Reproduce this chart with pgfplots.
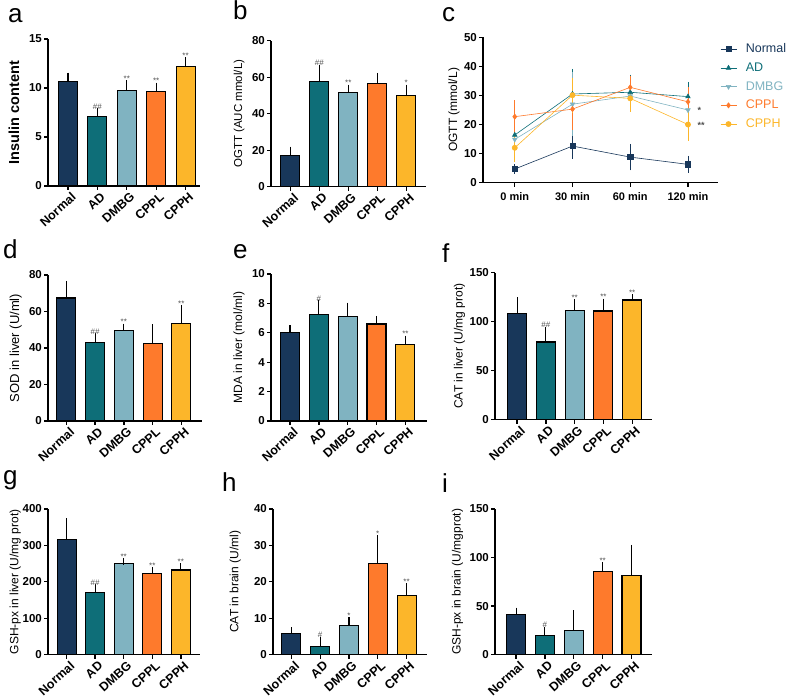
\documentclass[border=0pt]{standalone}
\usepackage{pgfplots}
\pgfplotsset{compat=1.18}
\usepackage{fontspec}
\setmainfont{Liberation Sans}
\definecolor{cN}{HTML}{18375A}
\definecolor{cA}{HTML}{0E6E78}
\definecolor{cD}{HTML}{80B3C1}
\definecolor{cL}{HTML}{FE7A2C}
\definecolor{cH}{HTML}{FCB62A}
\definecolor{star}{HTML}{505050}
\pgfplotsset{
  base/.style={
    scale only axis,
    axis lines=left,
    axis line style={-, line width=1.3pt, black},
    tick align=outside,
    major tick length=4pt,
    tick style={line width=1.3pt, black},
    /pgf/number format/assume math mode=true,
    yticklabel style={font=\bfseries\fontsize{11.5}{12}\selectfont, inner sep=2pt},
    ylabel style={font=\fontsize{12}{13}\selectfont, anchor=center},
    ymin=0,
    clip=false,
    anchor=south west,
  },
  barax/.style={
    base,
    xtick={0,1,2,3,4},
    xticklabels={Normal,AD,DMBG,CPPL,CPPH},
    xticklabel style={font=\bfseries\fontsize{12.5}{13}\selectfont, rotate=42, anchor=north east, inner sep=1pt, yshift=-2pt, xshift=2pt},
  },
  ylx/.style={ylabel style={at={(axis description cs:#1,0.5)}}},
  bp/.style={ybar, bar width=19pt, bar shift=0pt, draw=black, line width=1.1pt, fill=#1,
    error bars/y dir=plus, error bars/y explicit, error bars/error bar style={line width=1.1pt,black},
    error bars/error mark options={line width=1.1pt, black, mark size=3.5pt}},
  lp/.style={color=#1, line width=0.6pt, mark size=2.6pt, mark options={fill=#1, solid},
    error bars/y dir=both, error bars/y explicit, error bars/error bar style={line width=0.6pt, color=#1},
    error bars/error mark options={line width=0.6pt, color=#1, mark size=3pt}},
}
\tikzset{ann/.style={font=\fontsize{8}{8}\selectfont, text=star, anchor=south, inner sep=1pt, yshift=1pt},
  lett/.style={font=\fontsize{26}{26}\selectfont, anchor=base west, inner sep=0pt}}
\begin{document}
\begin{tikzpicture}
\useasboundingbox (0pt,0pt) rectangle (787pt,698pt);
% panel letters
\node[lett] at (8pt,675.5pt) {a};
\node[lett] at (233pt,678pt) {b};
\node[lett] at (442pt,676.3pt) {c};
\node[lett] at (3pt,439.7pt) {d};
\node[lett] at (233pt,439.7pt) {e};
\node[lett] at (442pt,435pt) {f};
\node[lett] at (3pt,213pt) {g};
\node[lett] at (222pt,206.3pt) {h};
\node[lett] at (442pt,205pt) {i};

% ---------- a ----------
\begin{axis}[barax, at={(48pt,512pt)}, width=152pt, height=147pt,
  xmin=-0.68, xmax=4.49, ymax=15, ytick={0,5,10,15},
  ylabel={Insulin content}, ylx=-0.224,
  ylabel style={font=\bfseries\fontsize{14.5}{16}\selectfont}]
\addplot[bp=cN] coordinates {(0,10.7) +- (0,0.5)};
\addplot[bp=cA] coordinates {(1,7.1) +- (0,0.5)};
\addplot[bp=cD] coordinates {(2,9.75) +- (0,0.7)};
\addplot[bp=cL] coordinates {(3,9.6) +- (0,0.6)};
\addplot[bp=cH] coordinates {(4,12.2) +- (0,0.6)};
\node[ann] at (axis cs:1,7.6) {\#\#};
\node[ann] at (axis cs:2,10.45) {**};
\node[ann] at (axis cs:3,10.2) {**};
\node[ann] at (axis cs:4,12.8) {**};
\end{axis}

% ---------- b ----------
\begin{axis}[barax, at={(271pt,511.3pt)}, width=155pt, height=146pt,
  xmin=-0.67, xmax=4.68, ymax=80, ytick={0,20,...,80},
  ylabel={OGTT (AUC mmol/L)}, ylx=-0.206,
  ylabel style={font=\fontsize{11.5}{13}\selectfont}]
\addplot[bp=cN] coordinates {(0,17) +- (0,3)};
\addplot[bp=cA] coordinates {(1,57.5) +- (0,7.5)};
\addplot[bp=cD] coordinates {(2,51.5) +- (0,2.5)};
\addplot[bp=cL] coordinates {(3,56.5) +- (0,4)};
\addplot[bp=cH] coordinates {(4,49.8) +- (0,4.2)};
\node[ann] at (axis cs:1,65) {\#\#};
\node[ann] at (axis cs:2,54) {**};
\node[ann] at (axis cs:4,54) {*};
\end{axis}

% ---------- c ----------
\begin{axis}[base, at={(483pt,515.3pt)}, width=235pt, height=145.4pt,
  xmin=-0.55, xmax=3.52, ymax=50, ytick={0,10,...,50},
  xtick={0,1,2,3}, xticklabels={0 min,30 min,60 min,120 min},
  xticklabel style={font=\bfseries\fontsize{11}{12}\selectfont, yshift=-2pt},
  ylabel={OGTT (mmol/L)}, ylx=-0.123,
  legend style={draw=none, fill=none, at={(axis description cs:1.0085,0.97)}, anchor=north west,
    font=\fontsize{12.5}{14}\selectfont, row sep=4.5pt, inner sep=0pt, cells={anchor=west}},
  legend image code/.code={\draw[mark repeat=2,mark phase=2,#1] plot coordinates {(0pt,0pt)(8pt,0pt)(16pt,0pt)};}]
\addplot[mark=square*, lp=cN] coordinates {(0,4.7) +- (0,0.6) (1,12.6) +- (0,3.4) (2,8.8) +- (0,3.5) (3,6.3) +- (0,1.9)};
\addlegendentry{\hspace*{7pt}\textcolor{cN}{Normal}}
\addplot[mark=triangle*, lp=cA] coordinates {(0,16.4) +- (0,8) (1,30.5) +- (0,7.6) (2,31.1) +- (0,5) (3,29.6) +- (0,4)};
\addlegendentry{\hspace*{7pt}\textcolor{cA}{AD}}
\addplot[mark=triangle*, lp=cD, mark options={rotate=180}] coordinates {(0,14.9) +- (0,4) (1,27) +- (0,10) (2,29.8) +- (0,3) (3,25) +- (0,3)};
\addlegendentry{\hspace*{7pt}\textcolor{cD}{DMBG}}
\addplot[mark=diamond*, lp=cL] coordinates {(0,22.7) +- (0,4.6) (1,25.3) +- (0,6) (2,32.8) +- (0,3) (3,27.8) +- (0,4)};
\addlegendentry{\hspace*{7pt}\textcolor{cL}{CPPL}}
\addplot[mark=*, lp=cH] coordinates {(0,12) +- (0,4) (1,30.1) +- (0,5) (2,29) +- (0,3.5) (3,20) +- (0,4.5)};
\addlegendentry{\hspace*{7pt}\textcolor{cH}{CPPH}}
\node[font=\bfseries\fontsize{9}{9}\selectfont, anchor=west, text=star] at (axis cs:3,25) [xshift=6pt] {*};
\node[font=\bfseries\fontsize{9}{9}\selectfont, anchor=west, text=star] at (axis cs:3,19.7) [xshift=6pt] {**};
\end{axis}

% ---------- d ----------
\begin{axis}[barax, at={(48pt,277pt)}, width=154pt, height=146pt,
  xmin=-0.64, xmax=4.72, ymax=80, ytick={0,20,...,80},
  ylabel={SOD in liver (U/ml)}, ylx=-0.21,
  ylabel style={font=\fontsize{13}{14}\selectfont}]
\addplot[bp=cN] coordinates {(0,67.4) +- (0,7.5)};
\addplot[bp=cA] coordinates {(1,43) +- (0,3.2)};
\addplot[bp=cD] coordinates {(2,49.5) +- (0,2)};
\addplot[bp=cL] coordinates {(3,42.6) +- (0,8.5)};
\addplot[bp=cH] coordinates {(4,53.3) +- (0,8.4)};
\node[ann] at (axis cs:1,46.2) {\#\#};
\node[ann] at (axis cs:2,51.5) {**};
\node[ann] at (axis cs:4,61.7) {**};
\end{axis}

% ---------- e ----------
\begin{axis}[barax, at={(271pt,277pt)}, width=156pt, height=147pt,
  xmin=-0.66, xmax=4.75, ymax=10, ytick={0,2,...,10},
  ylabel={MDA in liver (mol/ml)}, ylx=-0.205]
\addplot[bp=cN] coordinates {(0,6.0) +- (0,0.28)};
\addplot[bp=cA] coordinates {(1,7.25) +- (0,0.75)};
\addplot[bp=cD] coordinates {(2,7.12) +- (0,0.7)};
\addplot[bp=cL] coordinates {(3,6.6) +- (0,0.32)};
\addplot[bp=cH] coordinates {(4,5.2) +- (0,0.37)};
\node[ann] at (axis cs:1,8.0) {\#};
\node[ann] at (axis cs:4,5.57) {**};
\end{axis}

% ---------- f ----------
\begin{axis}[barax, at={(495pt,278.3pt)}, width=157pt, height=147pt,
  xmin=-0.77, xmax=4.69, ymax=150, ytick={0,50,100,150},
  ylabel={CAT in liver (U/mg prot)}, ylx=-0.226]
\addplot[bp=cN] coordinates {(0,108.5) +- (0,13)};
\addplot[bp=cA] coordinates {(1,79.3) +- (0,12.2)};
\addplot[bp=cD] coordinates {(2,111.2) +- (0,8.2)};
\addplot[bp=cL] coordinates {(3,110.9) +- (0,9.1)};
\addplot[bp=cH] coordinates {(4,122.1) +- (0,2.4)};
\node[ann] at (axis cs:1,91.5) {\#\#};
\node[ann] at (axis cs:2,119.4) {**};
\node[ann] at (axis cs:3,120) {**};
\node[ann] at (axis cs:4,124.5) {**};
\end{axis}

% ---------- g ----------
\begin{axis}[barax, at={(48pt,43.3pt)}, width=152pt, height=145.7pt,
  xmin=-0.65, xmax=4.67, ymax=400, ytick={0,100,...,400},
  ylabel={GSH-px in liver (U/mg prot)}, ylx=-0.215]
\addplot[bp=cN] coordinates {(0,316.7) +- (0,48.5)};
\addplot[bp=cA] coordinates {(1,170.3) +- (0,13.7)};
\addplot[bp=cD] coordinates {(2,250.8) +- (0,5.2)};
\addplot[bp=cL] coordinates {(3,222.4) +- (0,9.2)};
\addplot[bp=cH] coordinates {(4,232.5) +- (0,9.1)};
\node[ann] at (axis cs:1,184) {\#\#};
\node[ann] at (axis cs:2,256) {**};
\node[ann] at (axis cs:3,231.6) {**};
\node[ann] at (axis cs:4,241.6) {**};
\end{axis}

% ---------- h ----------
\begin{axis}[barax, at={(273pt,43.3pt)}, width=154pt, height=145.7pt,
  xmin=-0.64, xmax=4.71, ymax=40, ytick={0,10,...,40},
  ylabel={CAT in brain (U/ml)}, ylx=-0.245]
\addplot[bp=cN] coordinates {(0,5.86) +- (0,0.74)};
\addplot[bp=cA] coordinates {(1,2.3) +- (0,1.7)};
\addplot[bp=cD] coordinates {(2,7.9) +- (0,1.4)};
\addplot[bp=cL] coordinates {(3,25.1) +- (0,6.8)};
\addplot[bp=cH] coordinates {(4,16.2) +- (0,2.4)};
\node[ann] at (axis cs:1,4.0) {\#};
\node[ann] at (axis cs:2,9.3) {*};
\node[ann] at (axis cs:3,31.9) {*};
\node[ann] at (axis cs:4,18.6) {**};
\end{axis}

% ---------- i ----------
\begin{axis}[barax, at={(495pt,43.3pt)}, width=157pt, height=145.7pt,
  xmin=-0.73, xmax=4.71, ymax=150, ytick={0,50,100,150},
  ylabel={GSH-px in brain (U/mgprot)}, ylx=-0.239]
\addplot[bp=cN] coordinates {(0,41.4) +- (0,3.5)};
\addplot[bp=cA] coordinates {(1,19.5) +- (0,5.8)};
\addplot[bp=cD] coordinates {(2,25) +- (0,17)};
\addplot[bp=cL] coordinates {(3,86) +- (0,6)};
\addplot[bp=cH] coordinates {(4,81.5) +- (0,28)};
\node[ann] at (axis cs:1,25.3) {\#};
\node[ann] at (axis cs:3,92) {**};
\end{axis}
\end{tikzpicture}
\end{document}
